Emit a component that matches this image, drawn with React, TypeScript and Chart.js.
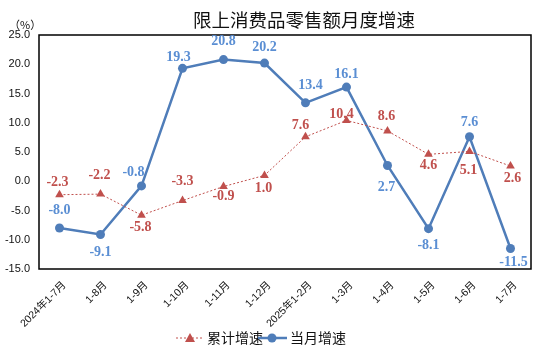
import React, { useEffect, useRef } from "react";
import { Chart, registerables } from "chart.js";

Chart.register(...registerables);

const categories = [
  "2024年1-7月", "1-8月", "1-9月", "1-10月", "1-11月", "1-12月",
  "2025年1-2月", "1-3月", "1-4月", "1-5月", "1-6月", "1-7月",
];
const cumulative = [-2.3, -2.2, -5.8, -3.3, -0.9, 1.0, 7.6, 10.4, 8.6, 4.6, 5.1, 2.6];
const monthly = [-8.0, -9.1, -0.8, 19.3, 20.8, 20.2, 13.4, 16.1, 2.7, -8.1, 7.6, -11.5];
const yTicks = [-15, -10, -5, 0, 5, 10, 15, 20, 25];
const seriesNames = ["累计增速", "当月增速"];
const titleText = "限上消费品零售额月度增速";
const unitText = "（%）";

// label offsets (style only)
const redDx = [-2, -1, -1, 0, 0, -1, -5, -5, -1, 0, -1, 2];
const redDy = [-12, -19, 12, -19, 10, 13, -11, -6, -15, 11, 19, 12];
const blueDx = [0, 0, -8, -4, 0, 0, 5, 0, -1, 0, 0, 3];
const blueDy = [-18, 18, -14, -11, -18, -16, -17, -13, 22, 17, -14, 14];

const RED = "#C0504D";
const BLUE = "#4F7DB9";
const BLUE_LABEL = "#5A8ED3";

const overlay = {
  id: "overlay",
  afterDraw(chart: any) {
    const ctx = chart.ctx;
    const a = chart.chartArea;
    ctx.save();
    // frame
    ctx.strokeStyle = "#000";
    ctx.lineWidth = 1.5;
    ctx.strokeRect(a.left, a.top, a.right - a.left, a.bottom - a.top);

    // data labels
    ctx.textAlign = "center";
    ctx.textBaseline = "middle";
    ctx.font = 'bold 14px "Liberation Serif", serif';
    const m0 = chart.getDatasetMeta(0).data;
    const m1 = chart.getDatasetMeta(1).data;
    ctx.fillStyle = RED;
    m0.forEach((p: any, i: number) => {
      ctx.fillText(cumulative[i].toFixed(1), p.x + redDx[i], p.y + redDy[i]);
    });
    ctx.fillStyle = BLUE_LABEL;
    m1.forEach((p: any, i: number) => {
      ctx.fillText(monthly[i].toFixed(1), p.x + blueDx[i], p.y + blueDy[i]);
    });

    // title
    ctx.fillStyle = "#111";
    ctx.font = '18.5px "Noto Sans CJK SC", sans-serif';
    ctx.fillText(titleText, 304, 20);

    // unit
    ctx.font = '11px "Noto Sans CJK SC", sans-serif';
    ctx.textAlign = "left";
    ctx.fillText(unitText, 9, 25);

    // legend
    const ly = 338;
    ctx.strokeStyle = RED;
    ctx.lineWidth = 1;
    ctx.setLineDash([2, 2]);
    ctx.beginPath();
    ctx.moveTo(176, ly);
    ctx.lineTo(203, ly);
    ctx.stroke();
    ctx.setLineDash([]);
    ctx.fillStyle = RED;
    ctx.beginPath();
    ctx.moveTo(190, ly - 5);
    ctx.lineTo(195, ly + 4);
    ctx.lineTo(185, ly + 4);
    ctx.closePath();
    ctx.fill();
    ctx.fillStyle = "#111";
    ctx.font = '14px "Noto Sans CJK SC", sans-serif';
    ctx.textAlign = "left";
    ctx.fillText(seriesNames[0], 207, ly);

    ctx.strokeStyle = BLUE;
    ctx.lineWidth = 2.5;
    ctx.beginPath();
    ctx.moveTo(258, ly);
    ctx.lineTo(287, ly);
    ctx.stroke();
    ctx.fillStyle = BLUE;
    ctx.beginPath();
    ctx.arc(272, ly, 4.5, 0, Math.PI * 2);
    ctx.fill();
    ctx.fillStyle = "#111";
    ctx.fillText(seriesNames[1], 290, ly);
    ctx.restore();
  },
};

export default function App() {
  const ref = useRef<HTMLCanvasElement>(null);
  useEffect(() => {
    document.body.style.margin = "0";
    const chart = new Chart(ref.current!, {
      type: "line",
      data: {
        labels: categories,
        datasets: [
          {
            label: seriesNames[0],
            data: cumulative,
            borderColor: RED,
            backgroundColor: RED,
            borderWidth: 1,
            borderDash: [2, 2],
            pointStyle: "triangle",
            pointRadius: 5,
            pointBorderWidth: 0,
            tension: 0,
          },
          {
            label: seriesNames[1],
            data: monthly,
            borderColor: BLUE,
            backgroundColor: BLUE,
            borderWidth: 2.5,
            pointStyle: "circle",
            pointRadius: 4.5,
            pointBorderWidth: 0,
            tension: 0,
          },
        ],
      },
      options: {
        animation: false,
        responsive: false,
        layout: { padding: { top: 35, right: 13, left: 0, bottom: 0 } },
        plugins: { legend: { display: false }, title: { display: false }, tooltip: { enabled: false } },
        scales: {
          x: {
            offset: true,
            grid: { display: false, drawTicks: false },
            border: { display: false },
            ticks: {
              minRotation: 45,
              maxRotation: 45,
              padding: 10,
              labelOffset: 5,
              color: "#111",
              font: { size: 10.5, family: '"Liberation Sans", "Noto Sans CJK SC", sans-serif' },
            },
            afterFit: (s: any) => { s.height = 85; },
          },
          y: {
            min: -15,
            max: 25,
            afterBuildTicks: (s: any) => { s.ticks = yTicks.map((v) => ({ value: v })); },
            grid: { display: false, drawTicks: false },
            border: { display: false },
            ticks: {
              padding: 9,
              color: "#111",
              font: { size: 11, family: '"Liberation Sans", Arial, sans-serif' },
              callback: (v: any) => Number(v).toFixed(1),
            },
            afterFit: (s: any) => { s.width = 39; },
          },
        },
      },
      plugins: [overlay],
    });
    return () => chart.destroy();
  }, []);
  return (
    <div style={{ position: "fixed", left: 0, top: 0, width: 544, height: 354, background: "#fff" }}>
      <canvas ref={ref} width={544} height={354} />
    </div>
  );
}
